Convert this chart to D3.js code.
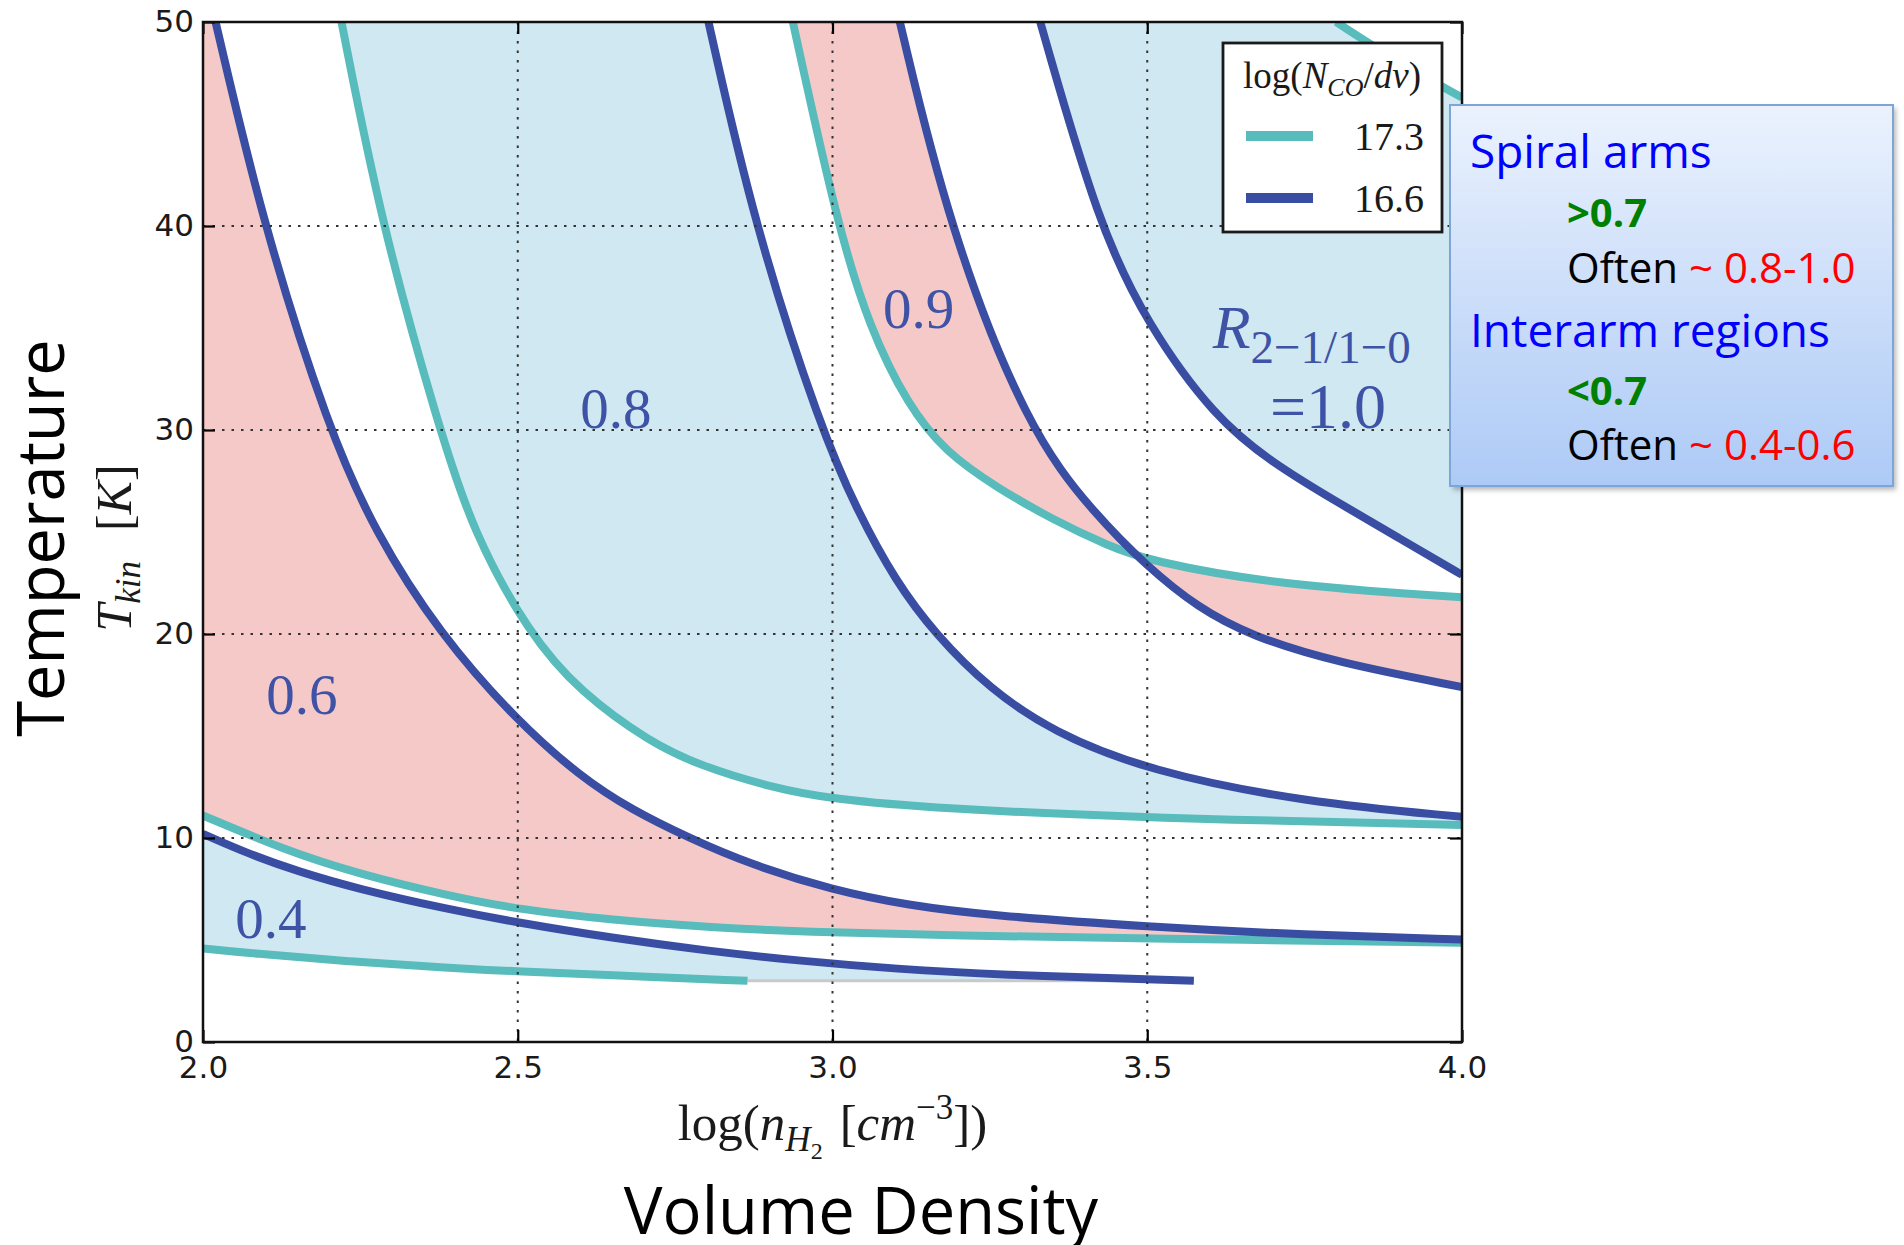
<!DOCTYPE html>
<html>
<head>
<meta charset="utf-8">
<script src="https://cdn.jsdelivr.net/npm/d3@7"></script>
<style>
  html, body { margin: 0; padding: 0; background: #ffffff; }
  svg { display: block; }
</style>
</head>
<body>
<svg id="chart" width="1904" height="1245"></svg>
<script>
// CO(2-1)/CO(1-0) line-ratio contours in the (log n_H2, T_kin) plane
// for two CO column densities per velocity width.

const xTicks = [2.0, 2.5, 3.0, 3.5, 4.0];
const yTicks = [0, 10, 20, 30, 40, 50];
const columnDensities = ["17.3", "16.6"];
const ratioLabels = ["0.4", "0.6", "0.8", "0.9"];

// contour points: [log n_H2, T_kin]
const r04_N173 = [[2.0,4.59],[2.075,4.35],[2.234,3.94],[2.392,3.62],[2.5,3.46],[2.65,3.27],[2.865,3.0]];
const r04_N166 = [[2.0,10.2],[2.075,9.19],[2.15,8.37],[2.245,7.51],[2.39,6.5],[2.5,5.85],[2.65,5.1],[2.8,4.47],[2.95,3.97],[3.1,3.58],[3.27,3.29],[3.5,3.07],[3.574,3.0]];
const r04_floor = [[2.865,3.0],[3.574,3.0]];
const r06_N173 = [[2.0,11.1],[2.13,9.41],[2.245,8.26],[2.39,7.17],[2.5,6.5],[2.65,5.98],[2.81,5.61],[2.95,5.41],[3.2,5.21],[3.5,5.07],[4.0,4.87]];
const r06_N166 = [[2.02,50],[2.096,40],[2.2,30],[2.273,25],[2.376,20],[2.5,15.7],[2.6,13.0],[2.68,11.4],[2.772,10.0],[2.87,8.7],[3.0,7.45],[3.12,6.7],[3.25,6.2],[3.5,5.65],[3.75,5.25],[4.0,5.03]];
const r08_N173 = [[2.22,50],[2.284,40],[2.376,30],[2.429,25],[2.518,20],[2.6,17.13],[2.71,14.7],[2.79,13.54],[2.9,12.5],[3.0,11.9],[3.167,11.45],[3.5,10.97],[4.0,10.64]];
const r08_N166 = [[2.803,50],[2.876,40],[2.982,30],[3.04,26.0],[3.1,22.6],[3.163,20.0],[3.25,17.3],[3.35,15.2],[3.5,13.3],[3.75,11.75],[4.0,11.04]];
const r09_N173 = [[2.937,50],[3.008,40],[3.059,35],[3.12,31.2],[3.18,28.9],[3.26,27.2],[3.35,25.6],[3.44,24.3],[3.5,23.6],[3.707,22.4],[4.0,21.8]];
const r09_N166 = [[3.107,50],[3.184,40],[3.31,30],[3.416,25.9],[3.5,23.3],[3.58,21.3],[3.665,19.9],[3.8,18.6],[4.0,17.4]];
const r10_N173 = [[3.80,50],[3.9,48.0],[4.0,46.3]];
const r10_N166 = [[3.33,50],[3.423,40],[3.5,35.2],[3.607,30.6],[3.703,28.3],[3.8,26.5],[3.9,24.7],[4.0,22.9]];

// label anchors: [log n_H2, T_kin]
const ratioLabelAt = [[2.108,5.1],[2.157,16.1],[2.656,30.1],[3.137,35.0]];
const unityLabelAt = [[3.604,34.0],[3.695,30.1]];

const COLORS = {
  teal: "#57bcbb",
  navy: "#394ea3",
  sky: "#d0e8f1",
  rose: "#f6c9c9",
  label: "#3e52a6"
};

const svg = d3.select("#chart");
const L = 203, R = 1462, T = 22, B = 1042;

const x = d3.scaleLinear().domain([2, 4]).range([L, R]);
const y = d3.scaleLinear().domain([0, 50]).range([B, T]);

const line = d3.line().x(d => x(d[0])).y(d => y(d[1])).curve(d3.curveBasis);
const straight = d3.line().x(d => x(d[0])).y(d => y(d[1]));
const rev = a => a.slice().reverse();
const cont = p => p.replace(/^M/, "L");

svg.append("defs").append("clipPath").attr("id", "plotClip")
  .append("rect").attr("x", L).attr("y", T).attr("width", R - L).attr("height", B - T);

const plot = svg.append("g").attr("clip-path", "url(#plotClip)");

// filled bands
const bands = [
  { fill: COLORS.sky,  d: line(r04_N166) + cont(straight(rev(r04_floor))) + cont(line(rev(r04_N173))) + "Z" },
  { fill: COLORS.rose, d: "M" + x(2) + "," + y(50) + cont(line(r06_N166)) + cont(line(rev(r06_N173))) + "Z" },
  { fill: COLORS.sky,  d: line(r08_N173) + cont(line(rev(r08_N166))) + "Z" },
  { fill: COLORS.rose, d: line(r09_N173) + cont(line(rev(r09_N166))) + "Z" },
  { fill: COLORS.sky,  d: line(r10_N166) + cont(line(rev(r10_N173))) + "Z" }
];
plot.selectAll("path.band").data(bands).join("path")
  .attr("class", "band").attr("d", d => d.d).attr("fill", d => d.fill).attr("stroke", "none");

// dotted grid
const grid = svg.append("g").attr("stroke", "#333").attr("stroke-width", 2).attr("stroke-dasharray", "2.5,7");
grid.selectAll("line.gx").data(xTicks.slice(1, -1)).join("line")
  .attr("x1", d => x(d)).attr("x2", d => x(d)).attr("y1", T).attr("y2", B);
grid.selectAll("line.gy").data(yTicks.slice(1, -1)).join("line")
  .attr("y1", d => y(d)).attr("y2", d => y(d)).attr("x1", L).attr("x2", R);

// floor of the 0.4 band
plot.append("path").attr("d", straight(r04_floor)).attr("fill", "none")
  .attr("stroke", "#c9c9c9").attr("stroke-width", 3);

// contour lines (N=17.3 under, N=16.6 on top)
const tealLines = [r04_N173, r06_N173, r08_N173, r09_N173, r10_N173];
const navyLines = [r04_N166, r06_N166, r08_N166, r09_N166, r10_N166];
plot.selectAll("path.teal").data(tealLines).join("path").attr("class", "teal")
  .attr("d", line).attr("fill", "none").attr("stroke", COLORS.teal).attr("stroke-width", 8);
plot.selectAll("path.navy").data(navyLines).join("path").attr("class", "navy")
  .attr("d", line).attr("fill", "none").attr("stroke", COLORS.navy).attr("stroke-width", 8);

// axes with inward ticks
const tickFont = "'DejaVu Sans', sans-serif";
const gx = svg.append("g").attr("transform", `translate(0,${B})`)
  .call(d3.axisBottom(x).tickValues(xTicks).tickFormat(d3.format(".1f")).tickSize(-12).tickPadding(14));
const gy = svg.append("g").attr("transform", `translate(${L},0)`)
  .call(d3.axisLeft(y).tickValues(yTicks).tickFormat(d3.format("d")).tickSize(-12).tickPadding(9));
const gt = svg.append("g").attr("transform", `translate(0,${T})`)
  .call(d3.axisTop(x).tickValues(xTicks).tickFormat("").tickSize(-12));
const gr = svg.append("g").attr("transform", `translate(${R},0)`)
  .call(d3.axisRight(y).tickValues(yTicks).tickFormat("").tickSize(-12));
[gx, gy, gt, gr].forEach(g => {
  g.select(".domain").remove();
  g.selectAll(".tick line").attr("stroke", "#000").attr("stroke-width", 2.2);
  g.selectAll(".tick text").attr("font-family", tickFont).attr("font-size", 31).attr("fill", "#1a1a1a");
});

svg.append("rect").attr("x", L).attr("y", T).attr("width", R - L).attr("height", B - T)
  .attr("fill", "none").attr("stroke", "#111").attr("stroke-width", 2.5);

// rich text helper: parts = [{t, it, size, shift, dx}]
const serif = "'Liberation Serif', 'Times New Roman', serif";
function richText(parent, px, py, parts, opts = {}) {
  const txt = parent.append("text")
    .attr("x", px).attr("y", py)
    .attr("font-family", serif)
    .attr("fill", opts.fill || "#1a1a1a")
    .attr("text-anchor", opts.anchor || "start");
  if (opts.rotate) txt.attr("transform", `rotate(${opts.rotate},${px},${py})`);
  let prev = 0;
  parts.forEach(p => {
    const s = p.shift || 0;
    const ts = txt.append("tspan").text(p.t)
      .attr("font-size", p.size)
      .attr("font-style", p.it ? "italic" : "normal")
      .attr("dy", s - prev);
    if (p.dx) ts.attr("dx", p.dx);
    prev = s;
  });
  return txt;
}

// ratio labels inside the bands
ratioLabels.forEach((lab, i) => {
  svg.append("text").attr("x", x(ratioLabelAt[i][0])).attr("y", y(ratioLabelAt[i][1]))
    .attr("text-anchor", "middle").attr("font-family", serif).attr("font-size", 57)
    .attr("fill", COLORS.label).text(lab);
});
richText(svg, x(unityLabelAt[0][0]), y(unityLabelAt[0][1]), [
  { t: "R", it: true, size: 62 },
  { t: "2\u22121/1\u22120", size: 47, shift: 15 }
], { fill: COLORS.label });
richText(svg, x(unityLabelAt[1][0]), y(unityLabelAt[1][1]), [
  { t: "=1.0", size: 64 }
], { fill: COLORS.label });

// axis titles
richText(svg, (L + R) / 2, 1140, [
  { t: "log(", size: 51 },
  { t: "n", it: true, size: 51 },
  { t: "H", it: true, size: 35, shift: 11 },
  { t: "2", size: 24, shift: 19 },
  { t: "[", size: 51, shift: 0, dx: 17 },
  { t: "cm", it: true, size: 51 },
  { t: "\u22123", size: 35, shift: -21 },
  { t: "])", size: 51, shift: 0 }
], { anchor: "middle" });

richText(svg, 131, (T + B) / 2 + 16, [
  { t: "T", it: true, size: 50 },
  { t: "kin", it: true, size: 35, shift: 9 },
  { t: "[", size: 50, shift: 0, dx: 30 },
  { t: "K", it: true, size: 50 },
  { t: "]", size: 50 }
], { anchor: "middle", rotate: -90 });

// slide captions
const sans = "'Open Sans', 'Noto Sans', sans-serif";
svg.append("text").attr("x", 64).attr("y", 538).attr("transform", "rotate(-90,64,538)")
  .attr("text-anchor", "middle").attr("font-family", sans).attr("font-size", 65)
  .attr("fill", "#000").text("Temperature");
svg.append("text").attr("x", 861).attr("y", 1234)
  .attr("text-anchor", "middle").attr("font-family", sans).attr("font-size", 65)
  .attr("fill", "#000").text("Volume Density");

// legend
const lg = svg.append("g");
lg.append("rect").attr("x", 1223).attr("y", 43).attr("width", 219).attr("height", 189)
  .attr("fill", "#fff").attr("stroke", "#1a1a1a").attr("stroke-width", 2.8);
richText(lg, 1332, 88, [
  { t: "log(", size: 37 },
  { t: "N", it: true, size: 37 },
  { t: "CO", it: true, size: 26, shift: 8 },
  { t: "/", size: 37, shift: 0 },
  { t: "dv", it: true, size: 37 },
  { t: ")", size: 37 }
], { anchor: "middle" });
const legendColors = [COLORS.teal, COLORS.navy];
columnDensities.forEach((lab, i) => {
  const yy = 136 + i * 62;
  lg.append("line").attr("x1", 1246).attr("x2", 1313).attr("y1", yy).attr("y2", yy)
    .attr("stroke", legendColors[i]).attr("stroke-width", 10);
  lg.append("text").attr("x", 1424).attr("y", yy + 14).attr("text-anchor", "end")
    .attr("font-family", serif).attr("font-size", 40).attr("fill", "#1a1a1a").text(lab);
});

// annotation panel
const defs = svg.select("defs");
const grad = defs.append("linearGradient").attr("id", "panelFill").attr("x1", 0).attr("y1", 0).attr("x2", 0).attr("y2", 1);
grad.append("stop").attr("offset", 0).attr("stop-color", "#ebf2fd");
grad.append("stop").attr("offset", 1).attr("stop-color", "#adcaf6");
const sh = defs.append("filter").attr("id", "panelShadow").attr("x", -0.1).attr("y", -0.1).attr("width", 1.2).attr("height", 1.2);
sh.append("feGaussianBlur").attr("stdDeviation", 2.5);

const panel = svg.append("g");
panel.append("rect").attr("x", 1453).attr("y", 108).attr("width", 443).attr("height", 382)
  .attr("fill", "rgba(0,0,0,0.28)").attr("filter", "url(#panelShadow)");
panel.append("rect").attr("x", 1450).attr("y", 105).attr("width", 443).attr("height", 381)
  .attr("fill", "url(#panelFill)").attr("stroke", "#7ea5d8").attr("stroke-width", 2);

const panelLines = [
  { x: 1470, y: 168, size: 46, spans: [{ t: "Spiral arms", c: "#0000ff" }] },
  { x: 1567, y: 227, size: 40, bold: true, spans: [{ t: ">0.7", c: "#008000" }] },
  { x: 1567, y: 283, size: 42, spans: [{ t: "Often ", c: "#000" }, { t: "~ 0.8-1.0", c: "#ff0000" }] },
  { x: 1470, y: 347, size: 46, spans: [{ t: "Interarm regions", c: "#0000ff" }] },
  { x: 1567, y: 405, size: 40, bold: true, spans: [{ t: "<0.7", c: "#008000" }] },
  { x: 1567, y: 460, size: 42, spans: [{ t: "Often ", c: "#000" }, { t: "~ 0.4-0.6", c: "#ff0000" }] }
];
panelLines.forEach(pl => {
  const t = panel.append("text").attr("x", pl.x).attr("y", pl.y)
    .attr("font-family", sans).attr("font-size", pl.size)
    .attr("font-weight", pl.bold ? 700 : 400).attr("xml:space", "preserve");
  pl.spans.forEach(s => t.append("tspan").attr("fill", s.c).text(s.t));
});
</script>
</body>
</html>
